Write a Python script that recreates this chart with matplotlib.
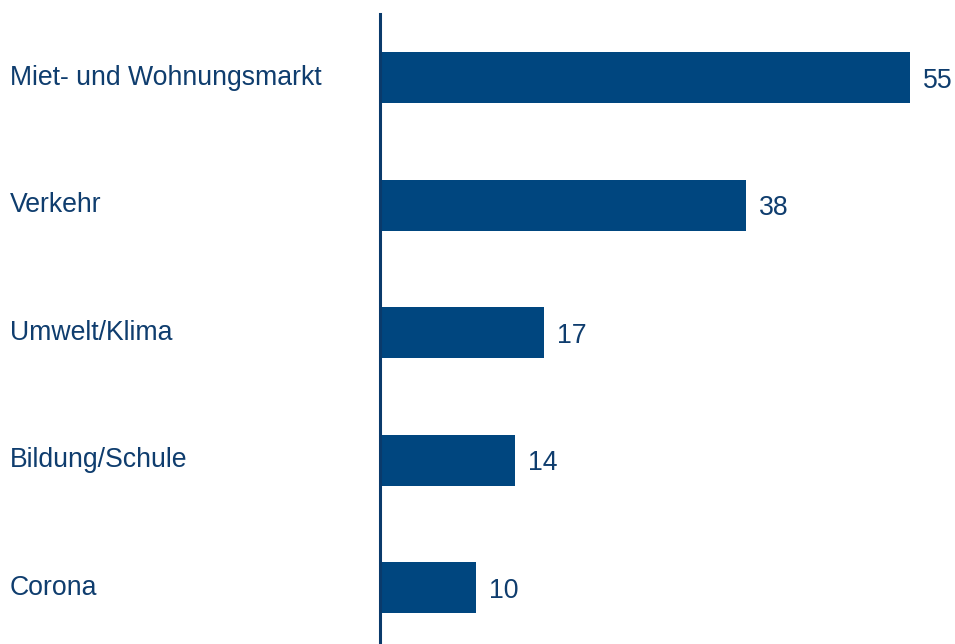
import matplotlib
matplotlib.use("Agg")
import matplotlib.pyplot as plt

# data
categories = ["Miet- und Wohnungsmarkt", "Verkehr", "Umwelt/Klima", "Bildung/Schule", "Corona"]
values = [55, 38, 17, 14, 10]

bar_color = "#00467F"
text_color = "#0F3D6E"

plt.rcParams['font.family'] = ['Liberation Sans', 'DejaVu Sans']

fig = plt.figure(figsize=(9.55, 6.44), dpi=100)
# axes start at the vertical spine (x=380px), top at 14px, down to the bottom edge
ax = fig.add_axes([380 / 955, 0, 575 / 955, 630 / 644])

pos = list(range(len(categories)))
ax.barh(pos, values, height=0.4, color=bar_color)

ax.set_xlim(0, 575 / 9.636)
ax.set_ylim(4.44, -0.5)

for p, v in zip(pos, values):
    ax.annotate(str(v), xy=(v, p), xytext=(13, -3), textcoords="offset pixels",
                ha="left", va="center", fontsize=19.2, color=text_color)

# category labels at the far left of the figure
for p, c in zip(pos, categories):
    ax.annotate(c, xy=(0, p), xycoords=("figure pixels", "data"),
                xytext=(10, 0), textcoords="offset pixels",
                ha="left", va="center", fontsize=19.2, color=text_color)

for s in ["top", "right", "bottom"]:
    ax.spines[s].set_visible(False)
ax.spines["left"].set_color("#0A3A6B")
ax.spines["left"].set_linewidth(2.2)
ax.set_xticks([])
ax.set_yticks([])
ax.patch.set_alpha(0)

fig.savefig("out.png", dpi=100)
